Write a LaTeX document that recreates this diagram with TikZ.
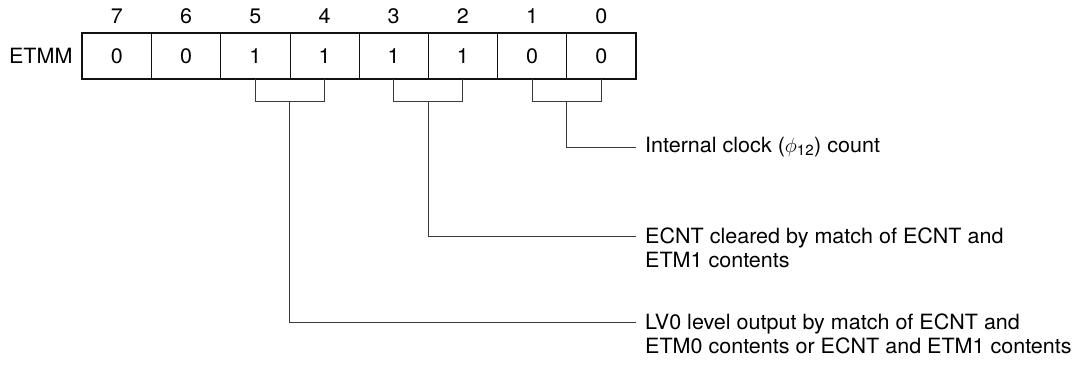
\documentclass[tikz,border=0pt]{standalone}
\usepackage{fontspec}
\setmainfont[FakeStretch=1.025]{TeX Gyre Heros}
\usepackage{xcolor}
\definecolor{regink}{HTML}{111111}
\definecolor{leadink}{HTML}{3A3A3A}
\usetikzlibrary{positioning, calc}
\newcommand{\regfont}{\fontsize{21}{23.5}\selectfont}
\newcommand{\bitpair}[3]{% left cell, right cell, stem top
  \draw[leader] (#1.south) -- ++(0,22.5) -| (#2.south);
  \coordinate (#3) at ($(#1.south)!0.5!(#2.south)+(0,22.5)$);
}
\tikzset{
  bitcell/.style={draw=regink, line width=0.8pt, minimum width=69.2pt,
                  minimum height=46pt, inner sep=0pt, outer sep=0pt},
  bitno/.style={inner sep=0pt},
  leader/.style={draw=leadink, line width=0.9pt},
  desc/.style={align=left, inner sep=0pt}
}

\begin{document}
\begin{tikzpicture}[x=1pt, y=-1pt, font=\regfont]
  \useasboundingbox (0,0) rectangle (1074,366);

  % Register cells, bit 7 down to bit 0
  \foreach \b/\v [count=\i from 0] in {7/0,6/0,5/1,4/1,3/1,2/1,1/0,0/0} {
    \node[bitcell] (c\b) at (116.9+69.2*\i, 56.3) {\v};
    \node[bitno, above=9.5pt of c\b] (n\b) {\b};
  }
  \draw[regink, line width=2.2pt] (c7.north west) rectangle (c0.south east);
  \node[inner sep=0pt, left=9.6pt of c7] (regname) {ETMM};

  % Brackets under bit pairs
  \bitpair{c5}{c4}{stemlv}
  \bitpair{c3}{c2}{stemclr}
  \bitpair{c1}{c0}{stemclk}

  % Ends of the leader lines
  \coordinate (tipclk) at (636,147);
  \coordinate (tipclr) at (636,236);
  \coordinate (tiplv) at (636,322);

  % Descriptions
  \node[desc, right=9pt of tipclk] (lblclk)
    {Internal clock (\(\phi\)\textsubscript{12}) count};
  \node[desc, anchor=north west] (lblclr) at ([xshift=9pt, yshift=8pt]tipclr)
    {ECNT cleared by match of ECNT and\\ETM1 contents};
  \node[desc, anchor=north west] (lbllv) at ([xshift=9pt, yshift=8pt]tiplv)
    {LV0 level output by match of ECNT and\\ETM0 contents or ECNT and ETM1 contents};

  \draw[leader] (stemclk) |- (tipclk);
  \draw[leader] (stemclr) |- (tipclr);
  \draw[leader] (stemlv) |- (tiplv);
\end{tikzpicture}
\end{document}
